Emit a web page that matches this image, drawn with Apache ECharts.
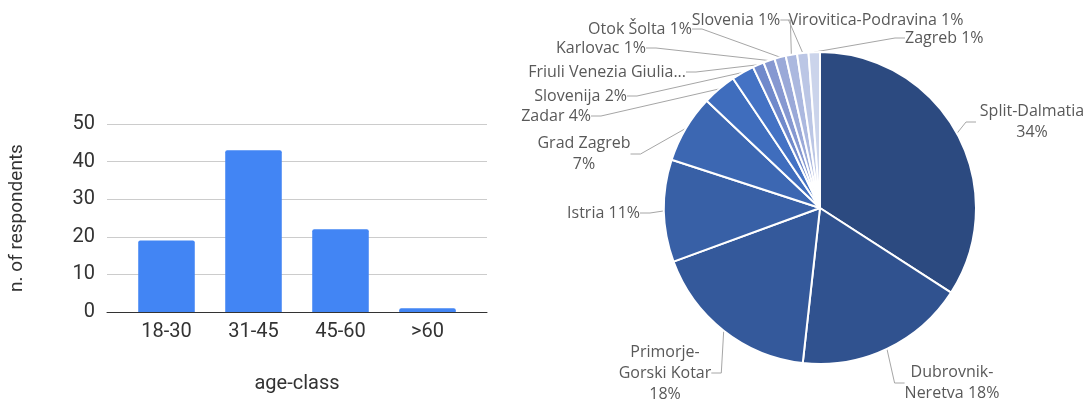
<!DOCTYPE html>
<html>
<head>
<meta charset="utf-8">
<script src="https://cdn.jsdelivr.net/npm/echarts@6/dist/echarts.min.js"></script>
<style>html,body{margin:0;padding:0;background:#fff}#c{width:1089px;height:406px}</style>
</head>
<body>
<div id="c"></div>
<script>
// ---- data ----
var ageClasses = ['18-30', '31-45', '45-60', '>60'];
var respondents = [19, 43, 22, 1];
var yTicks = { min: 0, max: 50, interval: 10 };

var regions = ['Split-Dalmatia', 'Dubrovnik-Neretva', 'Primorje-Gorski Kotar', 'Istria', 'Grad Zagreb', 'Zadar', 'Slovenija', 'Friuli Venezia Giulia', 'Karlovac', 'Otok Šolta', 'Slovenia', 'Virovitica-Podravina', 'Zagreb'];
var regionCounts = [29, 15, 15, 9, 6, 3, 2, 1, 1, 1, 1, 1, 1];
var regionLabelTexts = ['Split-Dalmatia\n{p}', 'Dubrovnik-\nNeretva {p}', 'Primorje-\nGorski Kotar\n{p}', 'Istria {p}', 'Grad Zagreb\n{p}', 'Zadar {p}', 'Slovenija {p}', 'Friuli Venezia Giulia...', 'Karlovac {p}', 'Otok Šolta {p}', 'Slovenia {p}', 'Virovitica-Podravina {p}', 'Zagreb {p}'];

// ---- styles ----
var pieColors = ['#2c4a80', '#30528f', '#34599b', '#3860a6', '#3c67b2', '#3f6dbd', '#4472c4', '#7089cb', '#8698d1', '#9aa9d8', '#abb8df', '#bbc6e5', '#cbd4eb'];
var labelPlaces = [
  { x: 1032, y: 122, align: 'center', width: 112 },
  { x: 952, y: 383, align: 'center' },
  { x: 665, y: 373, align: 'center' },
  { x: 640, y: 213, align: 'right' },
  { x: 584, y: 154, align: 'center' },
  { x: 591, y: 116, align: 'right' },
  { x: 627, y: 96, align: 'right' },
  { x: 686, y: 72, align: 'right' },
  { x: 646, y: 48, align: 'right' },
  { x: 692, y: 29, align: 'right' },
  { x: 736, y: 20, align: 'center' },
  { x: 876, y: 20, align: 'center' },
  { x: 905, y: 38, align: 'left' }
];
var txt = { fontFamily: 'Roboto', fontSize: 20, color: '#333' };

var pieData = regions.map(function (n, i) {
  var item = { name: n, value: regionCounts[i], itemStyle: { color: pieColors[i] } };
  if (labelPlaces[i].width) item.label = { width: labelPlaces[i].width };
  return item;
});

var chart = echarts.init(document.getElementById('c'), null, { renderer: 'canvas' });
chart.setOption({
  animation: false,
  backgroundColor: '#fff',
  grid: [
    { left: 107, right: 602, top: 124, bottom: 94 },
    { left: 123, right: 618, top: 124, bottom: 94 }
  ],
  xAxis: [
    {
      gridIndex: 0, type: 'value', min: 0, max: 1,
      axisLine: { show: true, onZero: false, lineStyle: { color: '#333', width: 1 } },
      axisTick: { show: false }, axisLabel: { show: false }, splitLine: { show: false }
    },
    {
      gridIndex: 1,
      type: 'category',
      data: ageClasses,
      name: 'age-class',
      nameLocation: 'middle',
      nameGap: 62,
      nameTextStyle: txt,
      axisLine: { show: false },
      axisTick: { show: false },
      axisLabel: Object.assign({ margin: 10 }, txt)
    }
  ],
  yAxis: [
    {
      gridIndex: 0,
      type: 'value',
      min: yTicks.min, max: yTicks.max, interval: yTicks.interval,
      name: 'n. of respondents',
      nameLocation: 'middle',
      nameGap: 80,
      nameTextStyle: { fontFamily: 'Roboto', fontSize: 19, color: '#333' },
      axisLine: { show: false },
      axisTick: { show: false },
      splitLine: { lineStyle: { color: '#cccccc', width: 1 } },
      axisLabel: Object.assign({ margin: 12 }, txt)
    },
    {
      gridIndex: 1,
      type: 'value',
      min: yTicks.min, max: yTicks.max, interval: yTicks.interval,
      axisLine: { show: false }, axisTick: { show: false },
      axisLabel: { show: false }, splitLine: { show: false }
    }
  ],
  series: [
    {
      type: 'bar',
      xAxisIndex: 1, yAxisIndex: 1,
      data: respondents,
      barWidth: '65%',
      itemStyle: { color: '#4285f4', borderRadius: [2, 2, 0, 0] }
    },
    {
      type: 'pie',
      center: [820, 208],
      radius: 156,
      startAngle: 90,
      clockwise: true,
      data: pieData,
      itemStyle: { borderColor: '#fff', borderWidth: 2 },
      label: {
        show: true,
        position: 'outside',
        fontFamily: 'Open Sans',
        fontSize: 16,
        lineHeight: 21,
        color: '#595959',
        formatter: function (p) {
          return regionLabelTexts[p.dataIndex].replace('{p}', Math.round(p.percent) + '%');
        }
      },
      labelLine: { show: true, length: 10, length2: 10, lineStyle: { color: '#a6a6a6', width: 1 } },
      labelLayout: function (params) {
        var pl = labelPlaces[params.dataIndex];
        return { x: pl.x, y: pl.y, align: pl.align, verticalAlign: 'middle' };
      }
    }
  ]
});
</script>
</body>
</html>
